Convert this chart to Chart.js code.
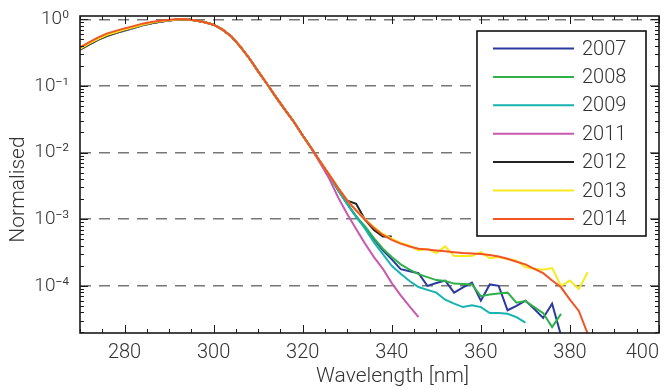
<!DOCTYPE html>
<html>
<head>
<meta charset="utf-8">
<script src="https://cdn.jsdelivr.net/npm/chart.js@4.4.1/dist/chart.umd.min.js"></script>
<style>
  html, body { margin: 0; padding: 0; background: #fff; }
  canvas { display: block; }
</style>
</head>
<body>
<canvas id="myChart" width="668" height="390"></canvas>
<script>
// Wavelength grid [nm], 2 nm steps
const wavelength = [270, 272, 274, 276, 278, 280, 282, 284, 286, 288, 290, 292, 294, 296, 298, 300,
                    302, 304, 306, 308, 310, 312, 314, 316, 318, 320, 322, 324, 326, 328, 330, 332,
                    334, 336, 338, 340, 342, 344, 346, 348, 350, 352, 354, 356, 358, 360, 362, 364,
                    366, 368, 370, 372, 374, 376, 378, 380, 382, 384];

const years = ['2007', '2008', '2009', '2011', '2012', '2013', '2014'];
const lineColors = ['#2b3a9e', '#2fb04a', '#16b3b0', '#c95aae', '#222222', '#f7ea1e', '#f25424'];

// Normalised spectra (each series ends where its line ends)
const y2007 = [.35, .415, .49, .56, .62, .68, .74, .81, .87, .92, .96, .99, 1.0, .96, .90, .83,
               .70, .55, .39, .26, .165, .107, .068, .044, .029, .018, .0115, .0071, .0045, .0027, .0017, .0011,
               .00075, .0005, .00034, .00025, .000178, .000165, .000155, .0001, .00011, .00012, .000079, .000095, .000112, .00006, .000105, .0001,
               .000043, .00005, .00006, .000045, .000033, .000054, .000018];
const y2008 = [.35, .415, .49, .56, .62, .68, .74, .81, .87, .92, .96, .99, 1.0, .96, .90, .83,
               .70, .55, .39, .26, .165, .107, .068, .044, .029, .018, .0115, .0071, .0045, .0027, .0017, .0011,
               .00078, .00052, .00036, .00027, .00021, .000175, .00015, .000135, .000122, .000118, .000108, .000107, .000105, .00007, .000074, .000077,
               .000079, .000056, .000059, .000048, .000039, .000024, .000038];
const y2009 = [.35, .415, .49, .56, .62, .68, .74, .81, .87, .92, .96, .99, 1.0, .96, .90, .83,
               .70, .55, .39, .26, .165, .107, .068, .044, .029, .018, .0115, .0071, .0045, .0027, .0017, .00108,
               .00072, .00045, .0003, .0002, .000152, .000118, .000096, .000087, .000079, .000062, .000054, .000048, .000051, .000048, .000039, .000039,
               .000038, .000034, .000028];
const y2011 = [.35, .415, .49, .56, .62, .68, .74, .81, .87, .92, .96, .99, 1.0, .96, .90, .83,
               .70, .55, .39, .26, .165, .107, .068, .044, .029, .018, .0113, .0068, .0040, .0021, .0012, .00071,
               .00043, .00027, .00018, .00011, .000072, .000049, .000034];
const y2012 = [.355, .42, .495, .565, .625, .69, .75, .82, .875, .925, .965, .99, 1.0, .96, .90, .83,
               .70, .55, .39, .26, .165, .107, .068, .044, .029, .018, .0115, .0072, .0046, .0029, .0019, .0017,
               .00098, .00069, .00055, .00055];
const y2013 = [.36, .43, .505, .58, .64, .70, .76, .83, .885, .93, .97, .995, 1.0, .96, .90, .83,
               .70, .55, .39, .26, .165, .107, .068, .044, .029, .018, .0115, .0072, .0046, .0029, .0019, .00136,
               .001, .00076, .0006, .00051, .00044, .0004, .00034, .00036, .00031, .00039, .00028, .00028, .00028, .00032, .00026, .00027,
               .00025, .00024, .00019, .00018, .000175, .000185, .0001, .00012, .00009, .00016];
const y2014 = [.38, .45, .53, .61, .67, .73, .79, .86, .91, .95, .98, 1.0, 1.0, .96, .90, .83,
               .70, .55, .39, .26, .165, .107, .068, .044, .029, .018, .0115, .0072, .0046, .0029, .0019, .00135,
               .00098, .00074, .00058, .00049, .00043, .00039, .00036, .00035, .00034, .00033, .00032, .00031, .000305, .0003, .00029, .000275,
               .000255, .00023, .00021, .00018, .000155, .00012, .000095, .000062, .000042, .000019];

const series = [y2007, y2008, y2009, y2011, y2012, y2013, y2014];

const xTicks = [270, 280, 300, 320, 340, 360, 380, 400];
const yTicks = [1e-4, 1e-3, 1e-2, 1e-1, 1];
const yTickLabels = ['10\u207B\u2074', '10\u207B\u00B3', '10\u207B\u00B2', '10\u207B\u00B9', '10\u2070'];

const xTitle = 'Wavelength [nm]';
const yTitle = 'Normalised';

const FONT = 'Roboto, "Liberation Sans", sans-serif';

// Inward ticks on all four sides plus the black frame
const frameTicks = {
  id: 'frameTicks',
  afterDatasetsDraw(chart) {
    const { ctx, chartArea: a, scales: { x, y } } = chart;
    ctx.save();
    ctx.strokeStyle = '#1a1a1a';
    ctx.lineWidth = 1;
    ctx.beginPath();
    for (let nm = 270; nm <= 400; nm += 5) {
      const px = Math.round(x.getPixelForValue(nm)) + 0.5;
      const len = nm % 20 === 0 ? 8 : 4;
      ctx.moveTo(px, a.bottom); ctx.lineTo(px, a.bottom - len);
      ctx.moveTo(px, a.top); ctx.lineTo(px, a.top + len);
    }
    for (let d = -5; d <= 0; d++) {
      for (let m = 1; m <= 9; m++) {
        const v = m * Math.pow(10, d);
        if (v < y.min || v > y.max) continue;
        const py = Math.round(y.getPixelForValue(v)) + 0.5;
        const len = m === 1 ? 8 : 4;
        ctx.moveTo(a.left, py); ctx.lineTo(a.left + len, py);
        ctx.moveTo(a.right, py); ctx.lineTo(a.right - len, py);
      }
    }
    ctx.stroke();
    ctx.lineWidth = 1.6;
    ctx.strokeRect(a.left, a.top, a.right - a.left, a.bottom - a.top);
    ctx.restore();
  }
};

// Axis titles, placed like in the original figure (a bit off the axis centre)
const axisTitles = {
  id: 'axisTitles',
  afterDraw(chart) {
    const { ctx, chartArea: a } = chart;
    ctx.save();
    ctx.fillStyle = '#333';
    ctx.font = '300 21px ' + FONT;
    ctx.textAlign = 'center';
    ctx.textBaseline = 'middle';
    ctx.fillText(xTitle, (a.left + a.right) / 2 + 23, 377);
    ctx.translate(19, (a.top + a.bottom) / 2 + 15);
    ctx.rotate(-Math.PI / 2);
    ctx.fillText(yTitle, 0, 0);
    ctx.restore();
  }
};

// Boxed legend in the upper right corner of the plot
const boxLegend = {
  id: 'boxLegend',
  afterDraw(chart) {
    const { ctx, chartArea: a } = chart;
    const right = a.right - 13, top = a.top + 15;
    const w = 169, h = 205, rowH = 28.4;
    const left = right - w;
    ctx.save();
    ctx.fillStyle = '#fff';
    ctx.fillRect(left, top, w, h);
    ctx.strokeStyle = '#111';
    ctx.lineWidth = 1.6;
    ctx.strokeRect(left, top, w, h);
    ctx.font = '300 20px ' + FONT;
    ctx.textBaseline = 'middle';
    chart.data.datasets.forEach((ds, i) => {
      const cy = top + 17.5 + i * rowH;
      ctx.strokeStyle = ds.borderColor;
      ctx.lineWidth = 2;
      ctx.beginPath();
      ctx.moveTo(left + 16, cy);
      ctx.lineTo(left + 97, cy);
      ctx.stroke();
      ctx.fillStyle = '#333';
      ctx.fillText(ds.label, left + 105, cy + 1);
    });
    ctx.restore();
  }
};

const datasets = years.map((yr, i) => ({
  label: yr,
  data: series[i].map((v, k) => ({ x: wavelength[k], y: v })),
  borderColor: lineColors[i],
  backgroundColor: lineColors[i],
  borderWidth: 2,
  pointRadius: 0,
  tension: 0,
  order: years.length - 1 - i
}));

const config = {
  type: 'line',
  data: { datasets: datasets },
  options: {
    responsive: false,
    animation: false,
    events: [],
    layout: { padding: { top: 16, right: 9, bottom: 0, left: 0 } },
    plugins: { legend: { display: false }, tooltip: { enabled: false } },
    scales: {
      x: {
        type: 'linear',
        min: 270,
        max: 400,
        afterBuildTicks: (scale) => { scale.ticks = xTicks.map(v => ({ value: v })); },
        afterFit: (scale) => { scale.height = 57; scale.paddingLeft = 0; scale.paddingRight = 0; },
        grid: { display: false, drawTicks: false },
        border: { display: false },
        ticks: {
          autoSkip: false,
          maxRotation: 0,
          align: 'inner',
          padding: 8,
          color: '#333',
          font: { family: FONT, size: 20, weight: '300' },
          callback: (v) => (v === 270 ? '' : String(v))
        },
        title: { display: false }
      },
      y: {
        type: 'logarithmic',
        min: 1.96e-5,
        max: 1.12,
        afterBuildTicks: (scale) => { scale.ticks = yTicks.map(v => ({ value: v })); },
        afterFit: (scale) => { scale.width = 80; scale.paddingTop = 0; scale.paddingBottom = 0; },
        grid: { color: '#777', lineWidth: 1.5, drawTicks: false },
        border: { display: false, dash: [11, 8] },
        ticks: {
          padding: 11,
          color: '#333',
          font: { family: FONT, size: 19, weight: '300' },
          callback: (v) => yTickLabels[yTicks.indexOf(v)]
        },
        title: { display: false }
      }
    }
  },
  plugins: [frameTicks, axisTitles, boxLegend]
};

const myChart = new Chart(document.getElementById('myChart'), config);
</script>
</body>
</html>
